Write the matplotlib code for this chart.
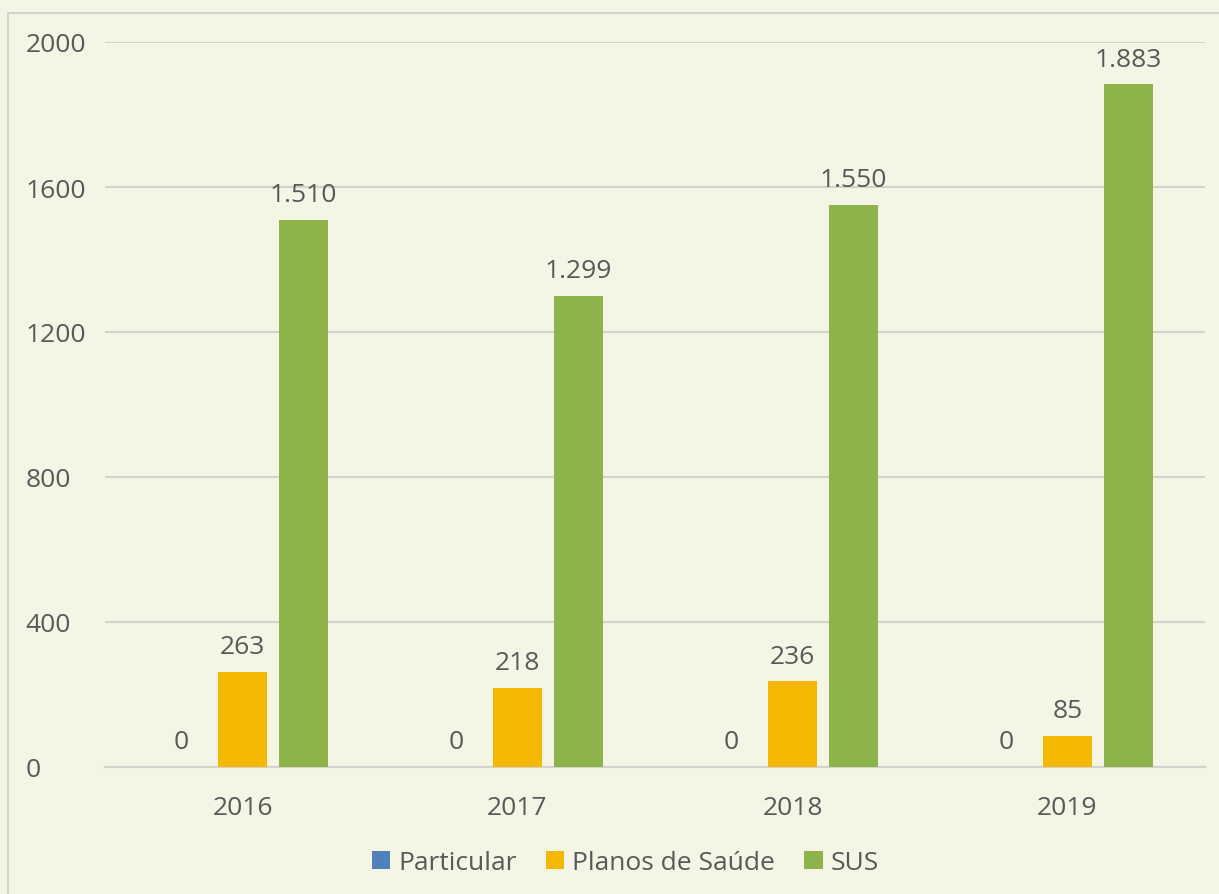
import matplotlib.pyplot as plt
import numpy as np
from matplotlib.patches import Rectangle

anos = ['2016', '2017', '2018', '2019']
particular = [0, 0, 0, 0]
planos = [263, 218, 236, 85]
sus = [1510, 1299, 1550, 1883]
series_nomes = ['Particular', 'Planos de Saúde', 'SUS']

cores = ['#4F81BD', '#F5B800', '#8DB34B']
bg = '#F4F5E4'
txt = '#595959'

plt.rcParams['font.family'] = ['Open Sans', 'DejaVu Sans']

fig = plt.figure(figsize=(12.19, 8.95), dpi=100, facecolor=bg)
ax = fig.add_axes([105/1219, 1 - 768/895, 1100/1219, 725/895])
ax.set_facecolor(bg)

# moldura externa
fig.patches.append(Rectangle((8/1219, -0.1), 1.2, 1 - 14/895 + 0.1, transform=fig.transFigure,
                             fill=False, edgecolor='#D3D3CB', linewidth=1.5))

x = np.arange(len(anos))
w = 0.175
step = 0.222
dados = [particular, planos, sus]

def fmt(v):
    return '{:,}'.format(v).replace(',', '.')

fs = 19
for i, (vals, nome) in enumerate(zip(dados, series_nomes)):
    pos = x + (i - 1) * step
    ax.bar(pos, vals, width=w, color=cores[i], label=nome, zorder=3)
    for p, v in zip(pos, vals):
        ax.text(p, v + 35, fmt(v), ha='center', va='bottom', fontsize=fs, color=txt)

ax.set_xlim(-0.5, 3.5)
ax.set_ylim(0, 2000)
ax.set_yticks([0, 400, 800, 1200, 1600, 2000])
ax.set_xticks(x)
ax.set_xticklabels(anos)
ax.tick_params(axis='both', length=0, labelsize=fs, labelcolor=txt)
ax.tick_params(axis='x', pad=20)
ax.yaxis.grid(True, color='#D3D3CB', linewidth=1.5, zorder=0)
for s in ['top', 'right', 'left']:
    ax.spines[s].set_visible(False)
ax.spines['bottom'].set_color('#D3D3CB')
ax.spines['bottom'].set_linewidth(1.5)
for lbl in ax.get_yticklabels():
    lbl.set_horizontalalignment('left')
ax.tick_params(axis='y', pad=57)

leg = ax.legend(loc='center', bbox_to_anchor=(0.473, -0.132), ncol=3, frameon=False,
                fontsize=fs, handlelength=0.7, handleheight=0.7, handletextpad=0.3,
                columnspacing=1.1)
for t in leg.get_texts():
    t.set_color(txt)

plt.savefig('out.png', dpi=100, facecolor=bg)
